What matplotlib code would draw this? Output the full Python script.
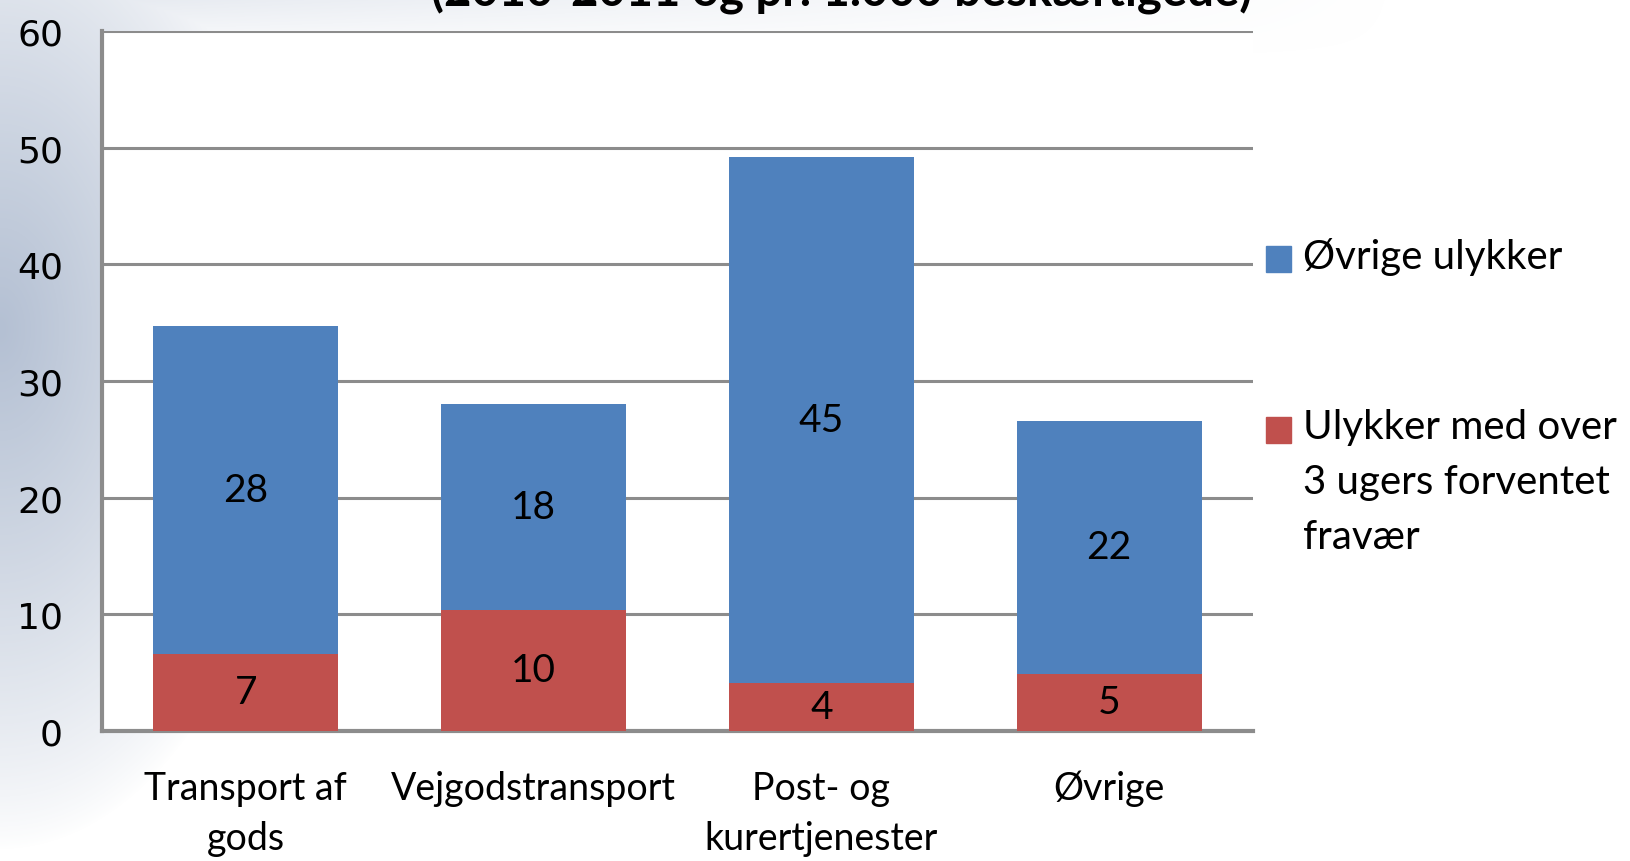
import numpy as np
import matplotlib

matplotlib.use("Agg")
import matplotlib.pyplot as plt
from matplotlib.colors import LinearSegmentedColormap


CATEGORIES = ["Transport af\ngods", "Vejgodstransport", "Post- og\nkurertjenester", "Øvrige"]
SEVERE = [6.6, 10.4, 4.1, 4.9]
OTHER = [28.1, 17.6, 45.1, 21.7]
SEVERE_LABELS = ["7", "10", "4", "5"]
OTHER_LABELS = ["28", "18", "45", "22"]
SERIES = ["Øvrige ulykker", "Ulykker med over\n3 ugers forventet\nfravær"]
TITLE = "(2010-2011 og pr. 1.000 beskæftigede)"

BLUE = "#4f81bd"
RED = "#c0504d"
GRID = "#8c8c8c"
FONT = ["Lato", "DejaVu Sans"]

W, H = 1630, 862
fig = plt.figure(figsize=(W / 100, H / 100), dpi=100)

# soft blue-grey shading on the left edge, like the slide background
bg = fig.add_axes([0, 0, 1, 1], zorder=-10)
yy, xx = np.mgrid[0:H, 0:W]
dist = np.sqrt(((xx - 0) / 300.0) ** 2 + ((yy - 330) / 520.0) ** 2)
shade = np.clip(1 - dist, 0, 1) ** 0.8
top = np.clip(1 - yy / 60.0, 0, 1) * np.clip(1 - xx / 1400.0, 0, 1) * 0.35
shade = np.maximum(shade, top)
cmap = LinearSegmentedColormap.from_list("bg", ["#ffffff", "#b4c0d3"])
bg.imshow(shade, cmap=cmap, vmin=0, vmax=1, aspect="auto", interpolation="bilinear")
bg.axis("off")

ax = fig.add_axes([102 / W, 1 - 732 / H, (1253 - 102) / W, 700 / H])
ax.set_facecolor("white")
x = np.arange(len(CATEGORIES))
width = 0.643
ax.bar(x, SEVERE, width, color=RED, zorder=3, label=SERIES[1])
ax.bar(x, OTHER, width, bottom=SEVERE, color=BLUE, zorder=3, label=SERIES[0])

for i in range(len(x)):
    ax.text(x[i], SEVERE[i] / 2, SEVERE_LABELS[i], ha="center", va="center",
            fontsize=28, family=FONT, zorder=4)
    ax.text(x[i], SEVERE[i] + OTHER[i] / 2, OTHER_LABELS[i], ha="center", va="center",
            fontsize=28, family=FONT, zorder=4)

ax.set_xlim(-0.5, 3.5)
ax.set_ylim(0, 60)
ax.set_yticks(range(0, 61, 10))
ax.yaxis.grid(True, color=GRID, lw=2.2, zorder=0)
ax.set_axisbelow(True)
for side in ["top", "right"]:
    ax.spines[side].set_visible(False)
ax.spines["left"].set_color(GRID)
ax.spines["left"].set_linewidth(3)
ax.spines["bottom"].set_color(GRID)
ax.spines["bottom"].set_linewidth(3)
ax.tick_params(axis="y", length=0, pad=28, labelsize=26)
ax.tick_params(axis="x", length=0, pad=28)
ax.set_xticks(x)
ax.set_xticklabels(CATEGORIES, fontsize=27, family=FONT, linespacing=1.5)

# legend drawn by hand to keep the slide layout
for label, color, ytop in [(SERIES[0], BLUE, 260), (SERIES[1], RED, 431)]:
    fig.patches.append(plt.Rectangle((1266 / W, 1 - (ytop + 13) / H), 25 / W, 26 / H,
                                     transform=fig.transFigure, color=color))
    fig.text(1303 / W, 1 - (ytop - 22) / H, label, ha="left", va="top",
             fontsize=29, family=FONT, linespacing=1.6)

fig.text(842 / W, 1 + 8 / H, TITLE, ha="center", va="center",
         fontsize=34, fontweight="bold", family=FONT)

fig.savefig("out.png", dpi=100)
